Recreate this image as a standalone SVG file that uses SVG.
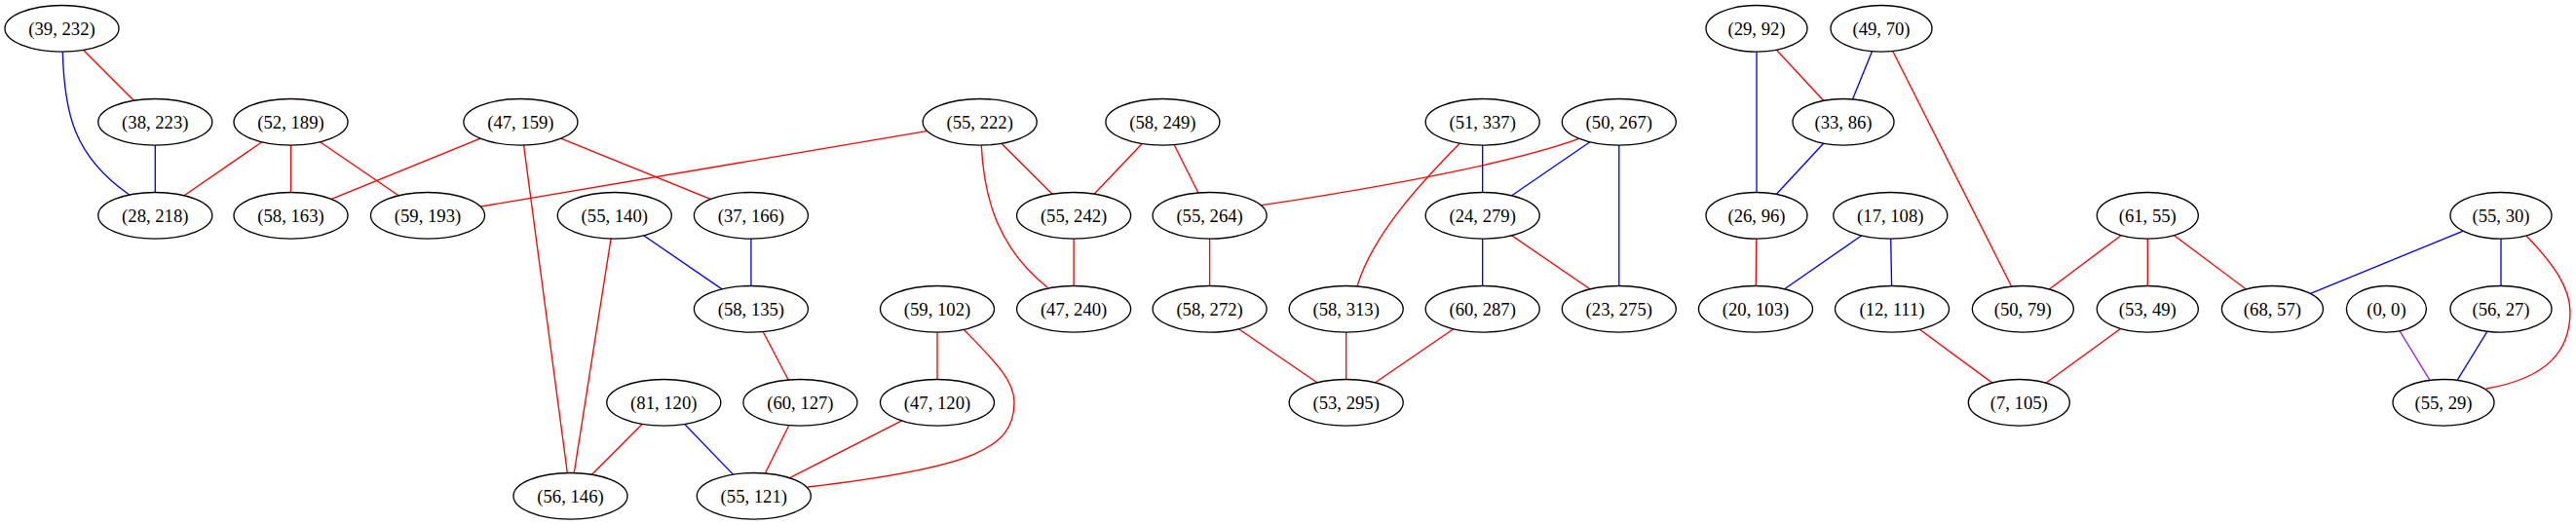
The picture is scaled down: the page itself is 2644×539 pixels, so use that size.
<svg xmlns="http://www.w3.org/2000/svg" width="2644" height="539" viewBox="0 0 2644 539">
<style>
.node ellipse{fill:#ffffff;stroke:#000000;stroke-width:1.33}
.node text{font-family:"Liberation Serif","Times New Roman",serif;font-size:18.67px;text-anchor:middle;fill:#000000}
#edges line,#edges path{fill:none;stroke-width:1.33}
.r{stroke:#ff0000}
.b{stroke:#0000ff}
.p{stroke:#a020f0}
</style>
<rect x="0" y="0" width="2644" height="539" fill="#ffffff"/>
<g id="edges">
<line class="r" x1="63.5" y1="29.3" x2="159.3" y2="125.3"/>
<path class="b" d="M64.3,53.3 C66,115 75,160 132.7,200"/>
<line class="b" x1="159.3" y1="125.3" x2="159.3" y2="221.3"/>
<line class="r" x1="298.5" y1="125.3" x2="159.3" y2="221.3"/>
<line class="r" x1="298.5" y1="125.3" x2="298.5" y2="221.3"/>
<line class="r" x1="298.5" y1="125.3" x2="439" y2="221.3"/>
<line class="r" x1="534.4" y1="125.3" x2="298.5" y2="221.3"/>
<line class="r" x1="534.4" y1="125.3" x2="585.5" y2="509.3"/>
<line class="r" x1="534.4" y1="125.3" x2="770.9" y2="221.3"/>
<line class="r" x1="1005.7" y1="125.3" x2="439" y2="221.3"/>
<line class="r" x1="1005.7" y1="125.3" x2="1102.1" y2="221.3"/>
<path class="r" d="M1007.3,149.3 C1010,205 1025,255 1075,295"/>
<line class="r" x1="1193.4" y1="125.3" x2="1102.1" y2="221.3"/>
<line class="r" x1="1193.4" y1="125.3" x2="1241.6" y2="221.3"/>
<line class="r" x1="1102.1" y1="221.3" x2="1102.1" y2="317.3"/>
<line class="r" x1="630.8" y1="221.3" x2="585.5" y2="509.3"/>
<line class="b" x1="630.8" y1="221.3" x2="770.9" y2="317.3"/>
<line class="b" x1="770.9" y1="221.3" x2="770.9" y2="317.3"/>
<line class="r" x1="770.9" y1="317.3" x2="821.4" y2="413.3"/>
<line class="r" x1="821.4" y1="413.3" x2="773.8" y2="509.3"/>
<line class="r" x1="681.3" y1="413.3" x2="585.5" y2="509.3"/>
<line class="b" x1="681.3" y1="413.3" x2="773.8" y2="509.3"/>
<line class="r" x1="962" y1="317.3" x2="962" y2="413.3"/>
<path class="r" d="M989,338 C1020,370 1041,390 1041,413 C1041,460 1000,480 829,500"/>
<line class="r" x1="962" y1="413.3" x2="773.8" y2="509.3"/>
<line class="r" x1="1241.6" y1="221.3" x2="1241.6" y2="317.3"/>
<path class="r" d="M1620,142.7 Q1530,175 1295,210.7"/>
<line class="b" x1="1661.8" y1="125.3" x2="1521.7" y2="221.3"/>
<line class="b" x1="1661.8" y1="125.3" x2="1661.8" y2="317.3"/>
<line class="b" x1="1521.7" y1="125.3" x2="1521.7" y2="221.3"/>
<path class="r" d="M1498,147.5 C1461,185 1409,240 1393,294"/>
<line class="b" x1="1521.7" y1="221.3" x2="1521.7" y2="317.3"/>
<line class="r" x1="1521.7" y1="221.3" x2="1661.8" y2="317.3"/>
<line class="r" x1="1241.6" y1="317.3" x2="1381.7" y2="413.3"/>
<line class="r" x1="1381.7" y1="317.3" x2="1381.7" y2="413.3"/>
<line class="r" x1="1521.7" y1="317.3" x2="1381.7" y2="413.3"/>
<line class="r" x1="1803" y1="29.3" x2="1892" y2="125.3"/>
<line class="b" x1="1803" y1="29.3" x2="1803" y2="221.3"/>
<line class="b" x1="1931" y1="29.3" x2="1892" y2="125.3"/>
<line class="r" x1="1931" y1="29.3" x2="2076.3" y2="317.3"/>
<line class="b" x1="1892" y1="125.3" x2="1803" y2="221.3"/>
<line class="r" x1="1803" y1="221.3" x2="1802" y2="317.3"/>
<line class="b" x1="1940.3" y1="221.3" x2="1802" y2="317.3"/>
<line class="b" x1="1940.3" y1="221.3" x2="1942" y2="317.3"/>
<line class="r" x1="1942" y1="317.3" x2="2072.3" y2="413.3"/>
<line class="r" x1="2204.3" y1="221.3" x2="2076.3" y2="317.3"/>
<line class="r" x1="2204.3" y1="221.3" x2="2204.3" y2="317.3"/>
<line class="r" x1="2204.3" y1="221.3" x2="2332.4" y2="317.3"/>
<line class="r" x1="2204.3" y1="317.3" x2="2072.3" y2="413.3"/>
<line class="b" x1="2567" y1="221.3" x2="2332.4" y2="317.3"/>
<line class="b" x1="2567" y1="221.3" x2="2567" y2="317.3"/>
<path class="r" d="M2593,242 C2620,270 2638,295 2638,320 C2638,360 2615,388 2552,399"/>
<line class="p" x1="2449.4" y1="317.3" x2="2508" y2="413.3"/>
<line class="b" x1="2567" y1="317.3" x2="2508" y2="413.3"/>
</g>
<g id="n39_232" class="node"><ellipse cx="63.5" cy="29.3" rx="58.5" ry="23.8"/><text x="63.5" y="35.6">(39, 232)</text></g>
<g id="n29_92" class="node"><ellipse cx="1803" cy="29.3" rx="52" ry="23.8"/><text x="1803" y="35.6">(29, 92)</text></g>
<g id="n49_70" class="node"><ellipse cx="1931" cy="29.3" rx="52" ry="23.8"/><text x="1931" y="35.6">(49, 70)</text></g>
<g id="n38_223" class="node"><ellipse cx="159.3" cy="125.3" rx="58.5" ry="23.8"/><text x="159.3" y="131.6">(38, 223)</text></g>
<g id="n52_189" class="node"><ellipse cx="298.5" cy="125.3" rx="58.5" ry="23.8"/><text x="298.5" y="131.6">(52, 189)</text></g>
<g id="n47_159" class="node"><ellipse cx="534.4" cy="125.3" rx="58.5" ry="23.8"/><text x="534.4" y="131.6">(47, 159)</text></g>
<g id="n55_222" class="node"><ellipse cx="1005.7" cy="125.3" rx="58.5" ry="23.8"/><text x="1005.7" y="131.6">(55, 222)</text></g>
<g id="n58_249" class="node"><ellipse cx="1193.4" cy="125.3" rx="58.5" ry="23.8"/><text x="1193.4" y="131.6">(58, 249)</text></g>
<g id="n51_337" class="node"><ellipse cx="1521.7" cy="125.3" rx="58.5" ry="23.8"/><text x="1521.7" y="131.6">(51, 337)</text></g>
<g id="n50_267" class="node"><ellipse cx="1661.8" cy="125.3" rx="58.5" ry="23.8"/><text x="1661.8" y="131.6">(50, 267)</text></g>
<g id="n33_86" class="node"><ellipse cx="1892" cy="125.3" rx="52" ry="23.8"/><text x="1892" y="131.6">(33, 86)</text></g>
<g id="n28_218" class="node"><ellipse cx="159.3" cy="221.3" rx="58.5" ry="23.8"/><text x="159.3" y="227.6">(28, 218)</text></g>
<g id="n58_163" class="node"><ellipse cx="298.5" cy="221.3" rx="58.5" ry="23.8"/><text x="298.5" y="227.6">(58, 163)</text></g>
<g id="n59_193" class="node"><ellipse cx="439" cy="221.3" rx="58.5" ry="23.8"/><text x="439" y="227.6">(59, 193)</text></g>
<g id="n55_140" class="node"><ellipse cx="630.8" cy="221.3" rx="58.5" ry="23.8"/><text x="630.8" y="227.6">(55, 140)</text></g>
<g id="n37_166" class="node"><ellipse cx="770.9" cy="221.3" rx="58.5" ry="23.8"/><text x="770.9" y="227.6">(37, 166)</text></g>
<g id="n55_242" class="node"><ellipse cx="1102.1" cy="221.3" rx="58.5" ry="23.8"/><text x="1102.1" y="227.6">(55, 242)</text></g>
<g id="n55_264" class="node"><ellipse cx="1241.6" cy="221.3" rx="58.5" ry="23.8"/><text x="1241.6" y="227.6">(55, 264)</text></g>
<g id="n24_279" class="node"><ellipse cx="1521.7" cy="221.3" rx="58.5" ry="23.8"/><text x="1521.7" y="227.6">(24, 279)</text></g>
<g id="n26_96" class="node"><ellipse cx="1803" cy="221.3" rx="52" ry="23.8"/><text x="1803" y="227.6">(26, 96)</text></g>
<g id="n17_108" class="node"><ellipse cx="1940.3" cy="221.3" rx="58.5" ry="23.8"/><text x="1940.3" y="227.6">(17, 108)</text></g>
<g id="n61_55" class="node"><ellipse cx="2204.3" cy="221.3" rx="52" ry="23.8"/><text x="2204.3" y="227.6">(61, 55)</text></g>
<g id="n55_30" class="node"><ellipse cx="2567" cy="221.3" rx="52" ry="23.8"/><text x="2567" y="227.6">(55, 30)</text></g>
<g id="n58_135" class="node"><ellipse cx="770.9" cy="317.3" rx="58.5" ry="23.8"/><text x="770.9" y="323.6">(58, 135)</text></g>
<g id="n59_102" class="node"><ellipse cx="962" cy="317.3" rx="58.5" ry="23.8"/><text x="962" y="323.6">(59, 102)</text></g>
<g id="n47_240" class="node"><ellipse cx="1102.1" cy="317.3" rx="58.5" ry="23.8"/><text x="1102.1" y="323.6">(47, 240)</text></g>
<g id="n58_272" class="node"><ellipse cx="1241.6" cy="317.3" rx="58.5" ry="23.8"/><text x="1241.6" y="323.6">(58, 272)</text></g>
<g id="n58_313" class="node"><ellipse cx="1381.7" cy="317.3" rx="58.5" ry="23.8"/><text x="1381.7" y="323.6">(58, 313)</text></g>
<g id="n60_287" class="node"><ellipse cx="1521.7" cy="317.3" rx="58.5" ry="23.8"/><text x="1521.7" y="323.6">(60, 287)</text></g>
<g id="n23_275" class="node"><ellipse cx="1661.8" cy="317.3" rx="58.5" ry="23.8"/><text x="1661.8" y="323.6">(23, 275)</text></g>
<g id="n20_103" class="node"><ellipse cx="1802" cy="317.3" rx="58.5" ry="23.8"/><text x="1802" y="323.6">(20, 103)</text></g>
<g id="n12_111" class="node"><ellipse cx="1942" cy="317.3" rx="58.5" ry="23.8"/><text x="1942" y="323.6">(12, 111)</text></g>
<g id="n50_79" class="node"><ellipse cx="2076.3" cy="317.3" rx="52" ry="23.8"/><text x="2076.3" y="323.6">(50, 79)</text></g>
<g id="n53_49" class="node"><ellipse cx="2204.3" cy="317.3" rx="52" ry="23.8"/><text x="2204.3" y="323.6">(53, 49)</text></g>
<g id="n68_57" class="node"><ellipse cx="2332.4" cy="317.3" rx="52" ry="23.8"/><text x="2332.4" y="323.6">(68, 57)</text></g>
<g id="n0_0" class="node"><ellipse cx="2449.4" cy="317.3" rx="41" ry="23.8"/><text x="2449.4" y="323.6">(0, 0)</text></g>
<g id="n56_27" class="node"><ellipse cx="2567" cy="317.3" rx="52" ry="23.8"/><text x="2567" y="323.6">(56, 27)</text></g>
<g id="n81_120" class="node"><ellipse cx="681.3" cy="413.3" rx="58.5" ry="23.8"/><text x="681.3" y="419.6">(81, 120)</text></g>
<g id="n60_127" class="node"><ellipse cx="821.4" cy="413.3" rx="58.5" ry="23.8"/><text x="821.4" y="419.6">(60, 127)</text></g>
<g id="n47_120" class="node"><ellipse cx="962" cy="413.3" rx="58.5" ry="23.8"/><text x="962" y="419.6">(47, 120)</text></g>
<g id="n53_295" class="node"><ellipse cx="1381.7" cy="413.3" rx="58.5" ry="23.8"/><text x="1381.7" y="419.6">(53, 295)</text></g>
<g id="n7_105" class="node"><ellipse cx="2072.3" cy="413.3" rx="52" ry="23.8"/><text x="2072.3" y="419.6">(7, 105)</text></g>
<g id="n55_29" class="node"><ellipse cx="2508" cy="413.3" rx="52" ry="23.8"/><text x="2508" y="419.6">(55, 29)</text></g>
<g id="n56_146" class="node"><ellipse cx="585.5" cy="509.3" rx="58.5" ry="23.8"/><text x="585.5" y="515.6">(56, 146)</text></g>
<g id="n55_121" class="node"><ellipse cx="773.8" cy="509.3" rx="58.5" ry="23.8"/><text x="773.8" y="515.6">(55, 121)</text></g>
</svg>
